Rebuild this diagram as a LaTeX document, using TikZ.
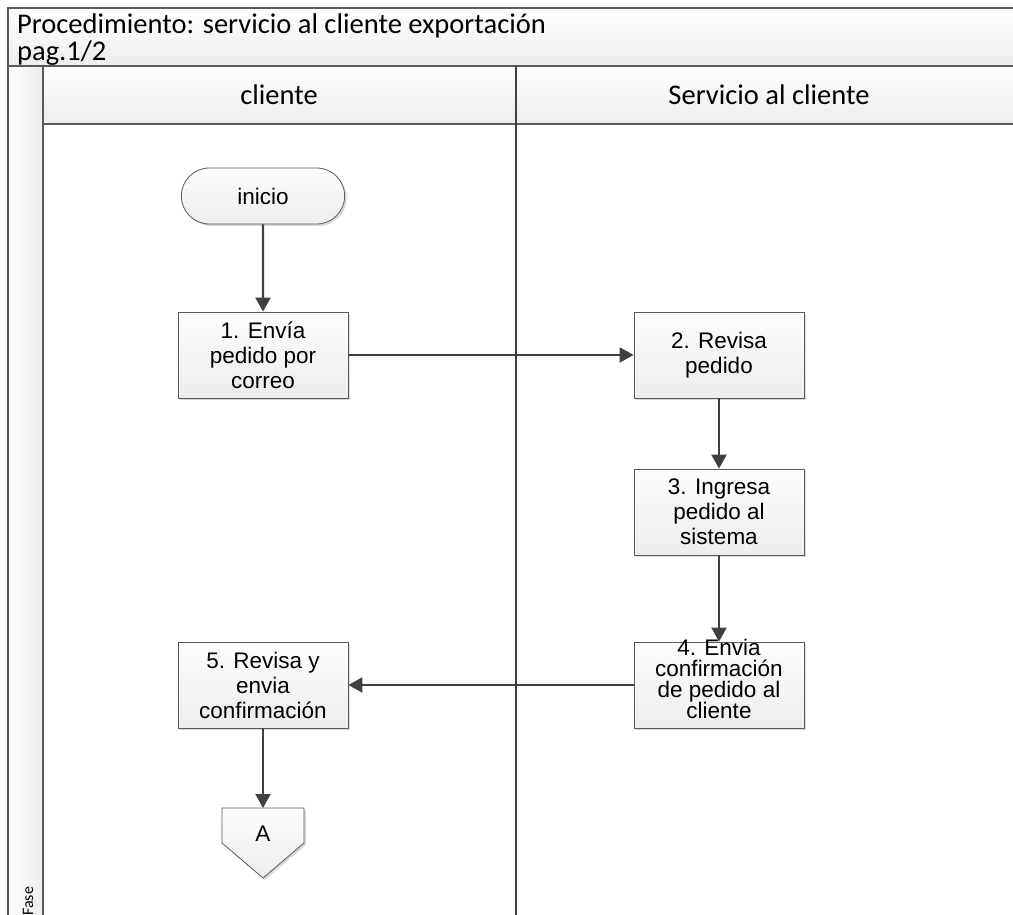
\documentclass[tikz,border=0pt]{standalone}
\usepackage{fontspec}
\setmainfont{Liberation Sans}
\newfontfamily\calfont{Carlito}
\usetikzlibrary{arrows.meta,shapes.misc,shadows}
\definecolor{edgegray}{HTML}{5A5A5A}
\definecolor{arrowgray}{HTML}{404040}
\definecolor{fillhi}{HTML}{FDFDFD}
\definecolor{filllo}{HTML}{EDEDED}
\tikzset{
  stepfont/.style={font=\fontsize{22.5}{25}\selectfont},
  procbox/.style={draw=edgegray, line width=0.8pt, top color=fillhi, bottom color=filllo,
    minimum width=170pt, minimum height=86pt, align=center, stepfont,
    drop shadow={shadow xshift=2pt, shadow yshift=-2pt, fill=black!25, opacity=0.6}},
  termbox/.style={draw=edgegray, line width=0.8pt, top color=fillhi, bottom color=filllo,
    rounded rectangle, minimum width=170pt, minimum height=56pt, stepfont,
    drop shadow={shadow xshift=2pt, shadow yshift=-2pt, fill=black!25, opacity=0.6}},
  flow/.style={draw=arrowgray, line width=2.2pt, -{Triangle[length=14pt,width=15pt]}},
  band/.style={draw=edgegray, line width=1.6pt, top color=white, bottom color=filllo},
  lane/.style={draw=arrowgray, line width=1.6pt},
  headfont/.style={font=\calfont\fontsize{28.5}{32}\selectfont, inner sep=0},
}
\begin{document}
\begin{tikzpicture}[x=1pt,y=-1pt]
\useasboundingbox (0,0) rectangle (1013,915);
% title band
\path[band] (8,8) rectangle (1030,66);
\node[anchor=base west, headfont] (title) at (17,34) {Procedimiento: servicio al cliente exportación};
\node[anchor=base west, headfont] (page) at (17,61) {pag.1/2};
% phase strip
\path[band, left color=white, right color=filllo] (8,66) rectangle (43,930);
\node[rotate=90, anchor=base west, font=\calfont\fontsize{16}{18}\selectfont, inner sep=0] (fase) at (33,916) {Fase};
% lane headers
\path[band] (43,66) rectangle (1030,124);
\draw[lane] (516,66) -- (516,930);
\node[anchor=base, headfont] (lanea) at (279,105) {cliente};
\node[anchor=base, headfont] (laneb) at (769,105) {Servicio al cliente};
% steps
\node[termbox] (ini) at (263,196) {inicio};
\node[procbox] (s1) at (263,355) {1. Envía\\pedido por\\correo};
\node[procbox] (s2) at (719,355) {2. Revisa\\pedido};
\node[procbox] (s3) at (719,512) {3. Ingresa\\pedido al\\sistema};
\node[procbox] (s4) at (719,685) {};
\node[font=\fontsize{22.5}{21}\selectfont, align=center] (s4t) at (719,679) {4. Envia\\confirmación\\de pedido al\\cliente};
\node[procbox] (s5) at (263,685) {5. Revisa y\\envia\\confirmación};
% off-page connector
\coordinate (ac) at (263,808);
\path[draw=edgegray, line width=0.8pt, top color=fillhi, bottom color=filllo,
  drop shadow={shadow xshift=2pt, shadow yshift=-2pt, fill=black!25, opacity=0.6}]
  (222,808) -- (304,808) -- (304,843) -- (263,878) -- (222,843) -- cycle;
\node[stepfont] (atext) at (263,834) {A};
% connectors
\draw[flow] (ini) -- (s1);
\draw[flow] (s1) -- (s2);
\draw[flow] (s2) -- (s3);
\draw[flow] (s3) -- (s4);
\draw[flow] (s4) -- (s5);
\draw[flow] (s5) -- (ac);
\end{tikzpicture}
\end{document}
